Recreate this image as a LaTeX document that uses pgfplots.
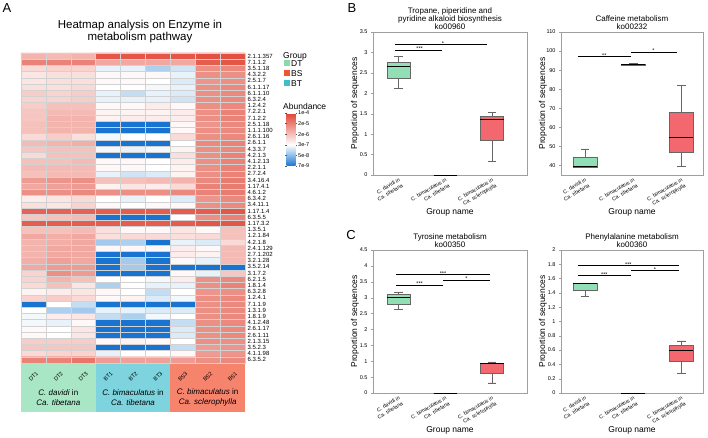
\documentclass[border=0pt]{standalone}
\usepackage{fontspec}
\setmainfont{Liberation Sans}
\usepackage{pgfplots}
\pgfplotsset{compat=1.18}
\usepgfplotslibrary{statistics}
\definecolor{boxgreen}{RGB}{146,223,182}
\definecolor{boxred}{RGB}{242,104,110}
\definecolor{bandDT}{RGB}{168,230,198}
\definecolor{bandBT}{RGB}{125,211,222}
\definecolor{bandBS}{RGB}{246,131,108}
\definecolor{legDT}{RGB}{140,218,170}
\definecolor{legBS}{RGB}{240,85,50}
\definecolor{legBT}{RGB}{64,190,200}
\newcommand\fs[2]{\fontsize{#1}{#2}\selectfont}
\pgfplotsset{
  /pgf/number format/assume math mode=true,
  boxax/.style={
    scale only axis, height=143pt,
    axis line style={gray!75},
    xtick={1,2,3},
    xticklabels={{C. davidi in\\Ca. tibetana},{C. bimaculatus in\\Ca. tibetana},{C. bimaculatus in\\Ca. sclerophylla}},
    xticklabel style={font=\fs{5.2}{6.4}, align=right, rotate=30, anchor=north east, inner sep=0.5pt},
    yticklabel style={font=\fs{5.5}{6}},
    xtick style={draw=none},
    ytick style={gray!75},
    ytick pos=left, tick align=outside, major tick length=2pt,
    title style={font=\fs{8}{8.3}, align=center, anchor=south, at={(0.5,1)}, yshift=-7.5pt},
    ylabel={Proportion of sequences},
    xlabel={Group name},
    label style={font=\fs{8.5}{9}},
    xlabel style={at={(axis description cs:0.5,-0.26)}, anchor=center},
    boxplot/draw direction=y,
    boxplot/every median/.style={black, line width=0.9pt},
    clip=false,
  },
  sig/.style={black, line width=0.6pt, forget plot},
  bx/.style={draw=gray!80!black, line width=0.5pt},
}
\tikzset{star/.style={font=\fs{5.5}{5.5}, anchor=south, inner sep=0.3pt, yshift=-1.2pt},
  clab/.style={rotate=45, font=\fs{5.5}{6}}}
\begin{document}
\begin{tikzpicture}
\useasboundingbox (0,0) rectangle (708pt,438pt);
% ---------------- Heatmap ----------------
\begin{axis}[name=hm, at={(21pt,75pt)}, anchor=south west, scale only axis,
  width=224pt, height=310pt,
  xmin=-0.5, xmax=8.5, ymin=-0.5, ymax=49.5, y dir=reverse,
  xtick={0,...,8}, xticklabels={}, minor x tick num=1,
  ytick={0,...,49}, minor y tick num=1,
  yticklabels={2.1.1.357,7.1.1.2,3.5.1.18,4.3.2.2,2.5.1.7,6.1.1.17,6.1.1.10,6.3.2.4,1.2.4.2,7.2.2.1,7.1.2.2,2.5.1.18,1.1.1.100,2.6.1.16,2.6.1.1,4.3.3.7,4.2.1.3,4.1.2.13,2.2.1.1,2.7.2.4,3.4.16.4,1.17.4.1,4.6.1.2,6.3.4.2,3.4.11.1,1.17.1.4,6.3.5.5,1.17.3.2,1.3.5.1,1.2.1.84,4.2.1.8,2.4.1.129,2.7.1.202,3.2.1.28,3.5.2.14,3.1.7.2,6.2.1.5,1.8.1.4,6.3.2.8,1.2.4.1,7.1.1.9,1.3.1.9,1.8.1.9,4.1.2.48,2.6.1.17,2.6.1.11,2.1.3.15,3.5.2.3,4.1.1.98,6.3.5.2},
  yticklabel pos=right,
  yticklabel style={font=\fs{6}{6}, inner sep=0pt, xshift=2.5pt},
  major tick length=0pt, minor tick length=0pt,
  grid=minor, minor grid style={gray!35, line width=0.4pt},
  axis line style={gray!35, line width=0.4pt},
  axis on top, clip=false,
  colormap={hm}{rgb255(0cm)=(24,116,208); rgb255(1cm)=(140,188,232); rgb255(2cm)=(255,255,255); rgb255(5cm)=(224,68,52)},
  point meta min=0, point meta max=5,
  colorbar,
  colorbar style={at={(parent axis.north east)}, anchor=north west, xshift=33pt, yshift=-60pt,
    scale only axis, width=9pt, height=53pt,
    ytick={0,1,2,3,4,5}, yticklabels={7e-9,5e-8,3e-7,2e-6,2e-5,1e-4},
    yticklabel style={font=\fs{5.5}{6}, inner sep=1pt},
    axis line style={draw=none}, major tick length=1.5pt, tick align=outside,
    ytick style={gray!70!black}},
]
\addplot[matrix plot*, mesh/cols=9, point meta=explicit] coordinates {
(0,0)[3.2] (1,0)[3.1] (2,0)[3.2] (3,0)[4.7] (4,0)[4.7] (5,0)[4.7] (6,0)[4.7] (7,0)[4.8] (8,0)[4.8]
(0,1)[4.0] (1,1)[4.0] (2,1)[4.0] (3,1)[3.4] (4,1)[3.4] (5,1)[3.4] (6,1)[3.4] (7,1)[4.6] (8,1)[4.7]
(0,2)[2.6] (1,2)[2.7] (2,2)[2.7] (3,2)[1.8] (4,2)[1.8] (5,2)[1.3] (6,2)[1.6] (7,2)[3.8] (8,2)[3.9]
(0,3)[2.4] (1,3)[2.5] (2,3)[2.5] (3,3)[2.1] (4,3)[2.1] (5,3)[2.1] (6,3)[1.8] (7,3)[3.8] (8,3)[3.8]
(0,4)[2.4] (1,4)[2.5] (2,4)[2.5] (3,4)[2.1] (4,4)[2.1] (5,4)[2.0] (6,4)[1.7] (7,4)[3.7] (8,4)[3.8]
(0,5)[2.5] (1,5)[2.5] (2,5)[2.6] (3,5)[2.0] (4,5)[2.0] (5,5)[1.9] (6,5)[1.8] (7,5)[3.8] (8,5)[3.9]
(0,6)[2.8] (1,6)[2.7] (2,6)[2.8] (3,6)[1.8] (4,6)[1.5] (5,6)[1.8] (6,6)[1.7] (7,6)[3.8] (8,6)[3.9]
(0,7)[2.7] (1,7)[2.7] (2,7)[2.8] (3,7)[1.8] (4,7)[1.8] (5,7)[1.8] (6,7)[1.6] (7,7)[3.8] (8,7)[3.9]
(0,8)[2.8] (1,8)[3.0] (2,8)[3.0] (3,8)[2.1] (4,8)[2.1] (5,8)[2.3] (6,8)[2.1] (7,8)[3.8] (8,8)[3.9]
(0,9)[2.9] (1,9)[3.1] (2,9)[3.1] (3,9)[2.2] (4,9)[2.2] (5,9)[2.2] (6,9)[2.3] (7,9)[3.8] (8,9)[4.0]
(0,10)[2.9] (1,10)[3.2] (2,10)[3.2] (3,10)[2.2] (4,10)[2.3] (5,10)[2.3] (6,10)[2.3] (7,10)[3.8] (8,10)[4.0]
(0,11)[3.0] (1,11)[3.2] (2,11)[3.2] (3,11)[0] (4,11)[0] (5,11)[0] (6,11)[2.1] (7,11)[3.7] (8,11)[3.9]
(0,12)[3.0] (1,12)[3.2] (2,12)[3.2] (3,12)[0] (4,12)[0] (5,12)[0] (6,12)[2.1] (7,12)[3.8] (8,12)[3.9]
(0,13)[2.6] (1,13)[2.8] (2,13)[2.5] (3,13)[1.9] (4,13)[2.0] (5,13)[2.0] (6,13)[2.6] (7,13)[3.8] (8,13)[3.9]
(0,14)[3.1] (1,14)[3.2] (2,14)[3.3] (3,14)[0] (4,14)[0] (5,14)[0] (6,14)[2.0] (7,14)[3.9] (8,14)[4.0]
(0,15)[2.9] (1,15)[3.0] (2,15)[3.0] (3,15)[1.9] (4,15)[1.8] (5,15)[1.9] (6,15)[2.2] (7,15)[3.8] (8,15)[3.9]
(0,16)[2.6] (1,16)[3.0] (2,16)[3.0] (3,16)[0] (4,16)[0] (5,16)[0] (6,16)[2.5] (7,16)[3.8] (8,16)[4.0]
(0,17)[3.0] (1,17)[3.0] (2,17)[3.1] (3,17)[2.1] (4,17)[2.1] (5,17)[2.0] (6,17)[2.3] (7,17)[3.8] (8,17)[4.0]
(0,18)[3.1] (1,18)[3.1] (2,18)[3.1] (3,18)[2.1] (4,18)[2.1] (5,18)[2.0] (6,18)[2.2] (7,18)[3.8] (8,18)[4.0]
(0,19)[3.0] (1,19)[3.1] (2,19)[3.1] (3,19)[1.8] (4,19)[1.6] (5,19)[1.7] (6,19)[2.2] (7,19)[3.8] (8,19)[4.0]
(0,20)[3.6] (1,20)[3.7] (2,20)[3.8] (3,20)[3.0] (4,20)[3.0] (5,20)[3.1] (6,20)[3.2] (7,20)[3.9] (8,20)[4.1]
(0,21)[3.4] (1,21)[3.5] (2,21)[3.6] (3,21)[2.2] (4,21)[2.4] (5,21)[2.3] (6,21)[2.6] (7,21)[4.0] (8,21)[4.1]
(0,22)[3.8] (1,22)[3.8] (2,22)[3.9] (3,22)[3.8] (4,22)[3.8] (5,22)[3.8] (6,22)[3.9] (7,22)[4.0] (8,22)[4.1]
(0,23)[2.3] (1,23)[2.4] (2,23)[2.6] (3,23)[2.0] (4,23)[1.8] (5,23)[2.0] (6,23)[1.7] (7,23)[3.7] (8,23)[3.9]
(0,24)[2.5] (1,24)[2.4] (2,24)[2.7] (3,24)[2.1] (4,24)[2.0] (5,24)[2.1] (6,24)[2.1] (7,24)[3.8] (8,24)[3.9]
(0,25)[4.5] (1,25)[4.5] (2,25)[4.5] (3,25)[4.6] (4,25)[4.6] (5,25)[4.6] (6,25)[4.6] (7,25)[4.6] (8,25)[4.7]
(0,26)[2.9] (1,26)[3.0] (2,26)[3.1] (3,26)[0] (4,26)[0] (5,26)[0] (6,26)[2.0] (7,26)[3.8] (8,26)[4.0]
(0,27)[4.6] (1,27)[4.6] (2,27)[4.6] (3,27)[4.6] (4,27)[4.6] (5,27)[4.6] (6,27)[4.6] (7,27)[4.7] (8,27)[4.7]
(0,28)[3.0] (1,28)[3.0] (2,28)[3.1] (3,28)[2.5] (4,28)[2.1] (5,28)[2.1] (6,28)[2.4] (7,28)[2.1] (8,28)[3.0]
(0,29)[3.4] (1,29)[3.3] (2,29)[3.4] (3,29)[2.5] (4,29)[2.6] (5,29)[2.6] (6,29)[2.5] (7,29)[2.6] (8,29)[3.0]
(0,30)[3.2] (1,30)[3.3] (2,30)[3.4] (3,30)[1.2] (4,30)[1.3] (5,30)[0] (6,30)[1.8] (7,30)[1.7] (8,30)[2.6]
(0,31)[3.2] (1,31)[3.4] (2,31)[3.4] (3,31)[2.1] (4,31)[2.1] (5,31)[2.1] (6,31)[2.3] (7,31)[2.1] (8,31)[3.1]
(0,32)[3.2] (1,32)[3.4] (2,32)[3.4] (3,32)[0] (4,32)[0] (5,32)[0] (6,32)[2.3] (7,32)[2.2] (8,32)[3.1]
(0,33)[3.3] (1,33)[3.5] (2,33)[3.4] (3,33)[0] (4,33)[1.2] (5,33)[0] (6,33)[2.1] (7,33)[1.8] (8,33)[3.1]
(0,34)[3.4] (1,34)[3.6] (2,34)[3.6] (3,34)[0] (4,34)[1.2] (5,34)[0] (6,34)[0] (7,34)[0] (8,34)[0]
(0,35)[2.7] (1,35)[3.8] (2,35)[3.6] (3,35)[0] (4,35)[0] (5,35)[0] (6,35)[2.1] (7,35)[1.8] (8,35)[2.9]
(0,36)[2.7] (1,36)[3.2] (2,36)[3.0] (3,36)[2.0] (4,36)[2.0] (5,36)[1.9] (6,36)[2.3] (7,36)[3.8] (8,36)[3.9]
(0,37)[2.6] (1,37)[3.0] (2,37)[2.4] (3,37)[1.3] (4,37)[2.0] (5,37)[1.8] (6,37)[1.8] (7,37)[3.8] (8,37)[4.0]
(0,38)[2.2] (1,38)[2.3] (2,38)[2.4] (3,38)[2.1] (4,38)[2.0] (5,38)[1.5] (6,38)[2.0] (7,38)[3.7] (8,38)[3.8]
(0,39)[2.7] (1,39)[2.8] (2,39)[2.6] (3,39)[2.1] (4,39)[2.2] (5,39)[1.7] (6,39)[1.9] (7,39)[3.8] (8,39)[3.9]
(0,40)[0] (1,40)[2.0] (2,40)[1.5] (3,40)[0] (4,40)[0] (5,40)[0] (6,40)[0] (7,40)[3.8] (8,40)[3.9]
(0,41)[2.0] (1,41)[1.3] (2,41)[1.2] (3,41)[1.8] (4,41)[1.8] (5,41)[1.7] (6,41)[1.7] (7,41)[3.8] (8,41)[3.9]
(0,42)[1.9] (1,42)[2.3] (2,42)[2.4] (3,42)[1.5] (4,42)[1.3] (5,42)[1.9] (6,42)[2.0] (7,42)[3.8] (8,42)[3.9]
(0,43)[1.9] (1,43)[1.8] (2,43)[2.1] (3,43)[0] (4,43)[0] (5,43)[0] (6,43)[1.5] (7,43)[3.8] (8,43)[3.9]
(0,44)[2.1] (1,44)[2.0] (2,44)[2.4] (3,44)[0] (4,44)[0] (5,44)[0] (6,44)[1.7] (7,44)[3.8] (8,44)[3.9]
(0,45)[2.1] (1,45)[2.0] (2,45)[2.4] (3,45)[0] (4,45)[0] (5,45)[0] (6,45)[1.7] (7,45)[3.8] (8,45)[3.9]
(0,46)[2.8] (1,46)[2.8] (2,46)[2.8] (3,46)[2.1] (4,46)[2.2] (5,46)[2.1] (6,46)[2.0] (7,46)[3.8] (8,46)[3.8]
(0,47)[2.9] (1,47)[2.9] (2,47)[2.9] (3,47)[0] (4,47)[0] (5,47)[0] (6,47)[1.5] (7,47)[3.6] (8,47)[3.7]
(0,48)[2.6] (1,48)[2.7] (2,48)[2.7] (3,48)[1.8] (4,48)[2.0] (5,48)[2.0] (6,48)[2.1] (7,48)[3.6] (8,48)[3.7]
(0,49)[4.0] (1,49)[4.0] (2,49)[4.2] (3,49)[3.6] (4,49)[3.5] (5,49)[3.5] (6,49)[3.6] (7,49)[3.8] (8,49)[3.9]
};
% group band below the heatmap
\fill[bandDT] (axis cs:-0.5,49.5) rectangle (axis cs:2.5,57.4);
\fill[bandBT] (axis cs:2.5,49.5) rectangle (axis cs:5.5,57.4);
\fill[bandBS] (axis cs:5.5,49.5) rectangle (axis cs:8.5,57.4);
\node[clab] at (axis cs:0,51.7) {DT1};
\node[clab] at (axis cs:1,51.7) {DT2};
\node[clab] at (axis cs:2,51.7) {DT3};
\node[clab] at (axis cs:3,51.7) {BT1};
\node[clab] at (axis cs:4,51.7) {BT2};
\node[clab] at (axis cs:5,51.7) {BT3};
\node[clab] at (axis cs:6,51.7) {BS3};
\node[clab] at (axis cs:7,51.7) {BS2};
\node[clab] at (axis cs:8,51.7) {BS1};
\node[align=center, font=\fs{8}{10}] at (axis cs:1,55.1) {\textit{C. davidi} in\\\textit{Ca. tibetana}};
\node[align=center, font=\fs{8}{10}] at (axis cs:4,55.1) {\textit{C. bimaculatus} in\\\textit{Ca. tibetana}};
\node[align=center, font=\fs{8}{10}] at (axis cs:7,55.1) {\textit{C. bimaculatus} in\\\textit{Ca. sclerophylla}};
\end{axis}
% titles, panel letters, legend
\node[font=\fs{13}{13}] at (7pt,429.5pt) {A};
\node[font=\fs{13}{13}] at (352pt,429.5pt) {B};
\node[font=\fs{13}{13}] at (351pt,203pt) {C};
\node[align=center, font=\fs{11.5}{11.5}] at (140pt,406.5pt) {Heatmap analysis on Enzyme in\\metabolism pathway};
\node[anchor=west, font=\fs{8.5}{9}, inner sep=0pt] at (283pt,382pt) {Group};
\fill[legDT] (284pt,371.5pt) rectangle (290pt,377.5pt);
\fill[legBS] (284pt,361.5pt) rectangle (290pt,367.5pt);
\fill[legBT] (284pt,351.5pt) rectangle (290pt,357.5pt);
\node[anchor=west, font=\fs{8.5}{9}, inner sep=0pt] at (291pt,374.5pt) {DT};
\node[anchor=west, font=\fs{8.5}{9}, inner sep=0pt] at (291pt,364.5pt) {BS};
\node[anchor=west, font=\fs{8.5}{9}, inner sep=0pt] at (291pt,354.5pt) {BT};
\node[anchor=west, font=\fs{8.5}{9}, inner sep=0pt] at (283pt,332pt) {Abundance};
% ---------------- B1 ----------------
\begin{axis}[boxax, at={(373pt,263pt)}, anchor=south west, width=154pt,
  xmin=0.45, xmax=3.75, ymin=0, ymax=3.5, ytick={0,0.5,1,1.5,2,2.5,3,3.5},
  title={Tropane, piperidine and\\pyridine alkaloid biosynthesis\\ko00960},
  ylabel style={at={(axis description cs:-0.117,0.5)}, anchor=center}]
\addplot[bx, fill=boxgreen, boxplot prepared={lower whisker=2.12, lower quartile=2.38, median=2.65, upper quartile=2.77, upper whisker=2.9, draw position=1, box extend=0.5, whisker extend=0.18}] coordinates {};
\addplot[bx, boxplot prepared={lower whisker=0, lower quartile=0, median=0, upper quartile=0, upper whisker=0, draw position=2, box extend=0.5, whisker extend=0.18}] coordinates {};
\addplot[bx, fill=boxred, boxplot prepared={lower whisker=0.33, lower quartile=0.85, median=1.35, upper quartile=1.45, upper whisker=1.53, draw position=3, box extend=0.5, whisker extend=0.18}] coordinates {};
\addplot[sig] coordinates {(0.92,3.06) (1.92,3.06)};
\addplot[sig] coordinates {(0.92,3.19) (2.9,3.19)};
\node[star] at (axis cs:1.45,3.06) {***};
\node[star] at (axis cs:1.95,3.19) {*};
\end{axis}
% ---------------- B2 ----------------
\begin{axis}[boxax, at={(561pt,263pt)}, anchor=south west, width=142pt,
  xmin=0.5, xmax=3.45, ymin=35, ymax=110, ytick={40,50,60,70,80,90,100,110},
  title={Caffeine metabolism\\ko00232},
  ylabel style={at={(axis description cs:-0.127,0.5)}, anchor=center}]
\addplot[bx, fill=boxgreen, boxplot prepared={lower whisker=39.1, lower quartile=39.3, median=39.7, upper quartile=44.2, upper whisker=48.7, draw position=1, box extend=0.5, whisker extend=0.18}] coordinates {};
\addplot[bx, boxplot prepared={lower whisker=92.5, lower quartile=92.7, median=93, upper quartile=93.2, upper whisker=93.4, draw position=2, box extend=0.5, whisker extend=0.18}] coordinates {};
\addplot[bx, fill=boxred, boxplot prepared={lower whisker=39.6, lower quartile=47, median=54.5, upper quartile=68, upper whisker=82, draw position=3, box extend=0.5, whisker extend=0.18}] coordinates {};
\addplot[sig] coordinates {(0.85,97) (1.95,97)};
\addplot[sig] coordinates {(1.95,99.5) (2.9,99.5)};
\node[star] at (axis cs:1.4,97) {**};
\node[star] at (axis cs:2.42,99.5) {*};
\end{axis}
% ---------------- C1 ----------------
\begin{axis}[boxax, at={(373pt,45pt)}, anchor=south west, width=154pt,
  xmin=0.45, xmax=3.75, ymin=0, ymax=4.5, ytick={0,0.5,1,1.5,2,2.5,3,3.5,4,4.5},
  title={Tyrosine metabolism\\ko00350},
  ylabel style={at={(axis description cs:-0.117,0.5)}, anchor=center}]
\addplot[bx, fill=boxgreen, boxplot prepared={lower whisker=2.63, lower quartile=2.8, median=3.0, upper quartile=3.1, upper whisker=3.18, draw position=1, box extend=0.5, whisker extend=0.18}] coordinates {};
\addplot[bx, boxplot prepared={lower whisker=0, lower quartile=0, median=0, upper quartile=0, upper whisker=0, draw position=2, box extend=0.5, whisker extend=0.18}] coordinates {};
\addplot[bx, fill=boxred, boxplot prepared={lower whisker=0.32, lower quartile=0.62, median=0.93, upper quartile=0.95, upper whisker=0.98, draw position=3, box extend=0.5, whisker extend=0.18}] coordinates {};
\addplot[sig] coordinates {(0.95,3.4) (1.95,3.4)};
\addplot[sig] coordinates {(0.95,3.72) (2.95,3.72)};
\addplot[sig] coordinates {(1.95,3.56) (2.95,3.56)};
\node[star] at (axis cs:1.45,3.4) {***};
\node[star] at (axis cs:1.95,3.72) {***};
\node[star] at (axis cs:2.45,3.56) {*};
\end{axis}
% ---------------- C2 ----------------
\begin{axis}[boxax, at={(561pt,45pt)}, anchor=south west, width=142pt,
  xmin=0.5, xmax=3.45, ymin=0, ymax=2, ytick={0,0.2,0.4,0.6,0.8,1,1.2,1.4,1.6,1.8,2},
  title={Phenylalanine metabolism\\ko00360},
  ylabel style={at={(axis description cs:-0.127,0.5)}, anchor=center}]
\addplot[bx, fill=boxgreen, boxplot prepared={lower whisker=1.35, lower quartile=1.44, median=1.53, upper quartile=1.54, upper whisker=1.54, draw position=1, box extend=0.5, whisker extend=0.18}] coordinates {};
\addplot[bx, boxplot prepared={lower whisker=0, lower quartile=0, median=0, upper quartile=0, upper whisker=0, draw position=2, box extend=0.5, whisker extend=0.18}] coordinates {};
\addplot[bx, fill=boxred, boxplot prepared={lower whisker=0.27, lower quartile=0.44, median=0.6, upper quartile=0.67, upper whisker=0.73, draw position=3, box extend=0.5, whisker extend=0.18}] coordinates {};
\addplot[sig] coordinates {(0.85,1.64) (1.95,1.64)};
\addplot[sig] coordinates {(0.85,1.78) (2.95,1.78)};
\addplot[sig] coordinates {(1.95,1.71) (2.95,1.71)};
\node[star] at (axis cs:1.4,1.64) {***};
\node[star] at (axis cs:1.9,1.78) {***};
\node[star] at (axis cs:2.45,1.71) {*};
\end{axis}
\end{tikzpicture}
\end{document}
